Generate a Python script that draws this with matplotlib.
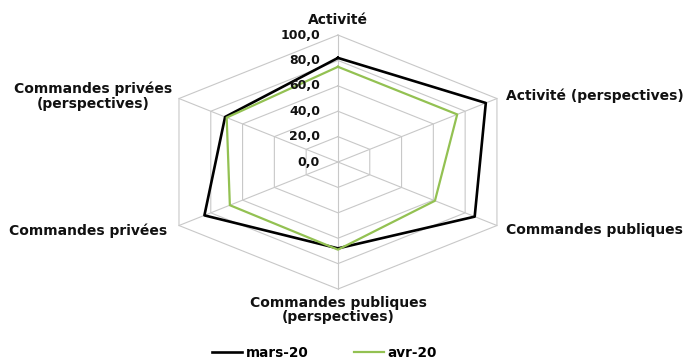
import numpy as np
import matplotlib.pyplot as plt

categories = ['Activité', 'Activité (perspectives)', 'Commandes publiques',
              'Commandes publiques\n(perspectives)', 'Commandes privées',
              'Commandes privées\n(perspectives)']
mars_20 = [82, 93, 86, 68, 84, 71]
avr_20 = [75, 75, 61, 69, 68, 70]
ring_values = [0, 20, 40, 60, 80, 100]
ring_labels = ['0,0', '20,0', '40,0', '60,0', '80,0', '100,0']

# label anchors (x, y, ha) in axis units, radius 1 = 100
label_pos = [(0, 1.118, 'center'), (0.915, 0.52, 'left'), (0.915, -0.535, 'left'),
             (0, -1.165, 'center'), (-0.931, -0.541, 'right'), (-1.335, 0.52, 'center')]

GRID = '#c8c8c8'
GREEN = '#93c152'


def spoke_angles(n):
    """Clockwise from the top, as for an Excel radar chart"""
    return np.deg2rad(90 - 360.0 / n * np.arange(n))


def closed_xy(values, ang, vmax=100.0):
    r = np.asarray(values, dtype=float) / vmax
    x = np.append(r * np.cos(ang), r[0] * np.cos(ang[0]))
    y = np.append(r * np.sin(ang), r[0] * np.sin(ang[0]))
    return x, y


def plot_radar():
    ang = spoke_angles(len(categories))
    fig = plt.figure(figsize=(6.84, 3.6), dpi=100)
    ax = fig.add_axes([0, 0, 1, 1])
    ax.set_xlim(-1.841, 1.885)
    ax.set_ylim(-1.559, 1.276)
    ax.axis('off')

    # web of rings and spokes
    for v in ring_values[1:]:
        x, y = closed_xy([v] * len(categories), ang)
        ax.plot(x, y, color=GRID, lw=0.8, zorder=1)
    for a in ang:
        ax.plot([0, np.cos(a)], [0, np.sin(a)], color=GRID, lw=0.8, zorder=1)

    x, y = closed_xy(mars_20, ang)
    ax.plot(x, y, color='black', lw=1.9, label='mars-20', zorder=3)
    x, y = closed_xy(avr_20, ang)
    ax.plot(x, y, color=GREEN, lw=1.6, label='avr-20', zorder=4)

    for v, lab in zip(ring_values, ring_labels):
        ax.text(-0.098, v / 100.0, lab, ha='right', va='center',
                fontsize=9, fontweight='bold', color='#111111', zorder=5)

    for name, (tx, ty, ha) in zip(categories, label_pos):
        ax.text(tx, ty, name, ha=ha, va='center', fontsize=10,
                fontweight='bold', color='#111111', linespacing=1.05)

    ax.legend(loc='center left', bbox_to_anchor=(212 / 684, 7 / 360),
              bbox_transform=fig.transFigure, ncol=2, frameon=False,
              prop={'weight': 'bold', 'size': 9.8}, handlelength=2.2,
              handletextpad=0.3, columnspacing=3.3, borderpad=0, borderaxespad=0)
    fig.savefig('out.png', dpi=100)


plot_radar()
